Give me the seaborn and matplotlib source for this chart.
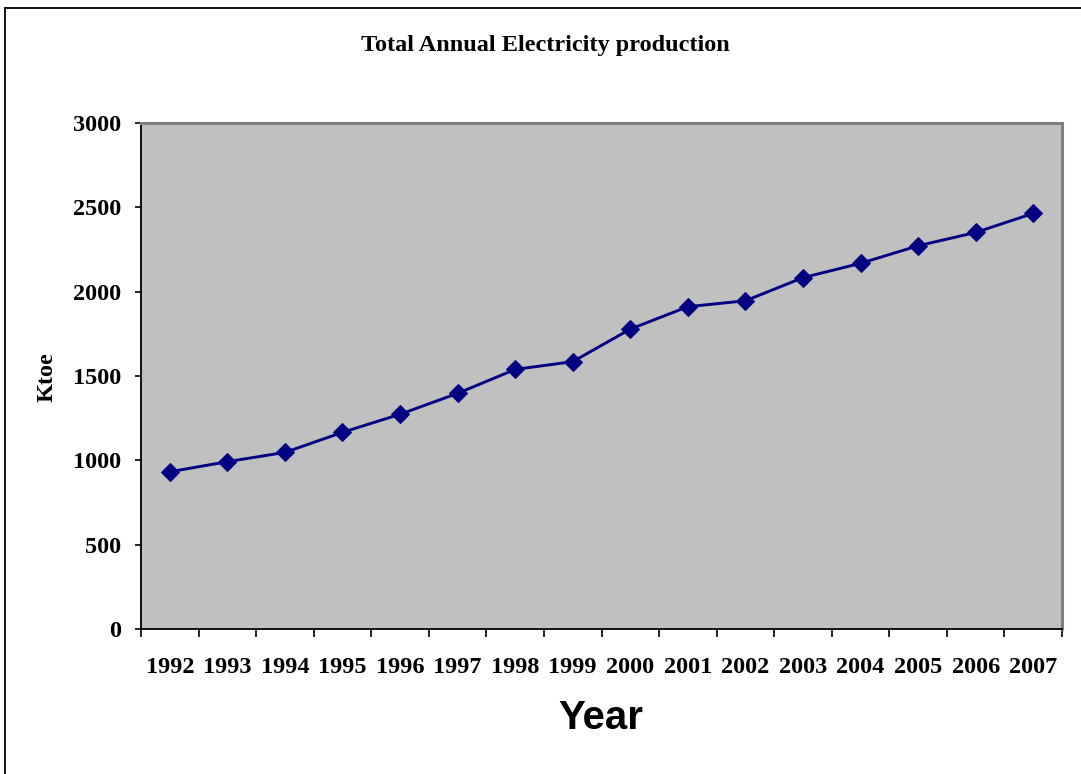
import matplotlib
matplotlib.use("Agg")
import matplotlib.pyplot as plt
from matplotlib.lines import Line2D
from matplotlib.ticker import FixedLocator
import numpy as np
import pandas as pd
import seaborn as sns

# Total annual electricity production (Ktoe)
years = ["1992", "1993", "1994", "1995", "1996", "1997", "1998", "1999",
         "2000", "2001", "2002", "2003", "2004", "2005", "2006", "2007"]
production = [932, 992, 1047, 1166, 1273, 1397, 1539, 1585,
              1778, 1911, 1946, 2083, 2168, 2272, 2351, 2464]
y_ticks = [0, 500, 1000, 1500, 2000, 2500, 3000]

sns.set_theme(style="white")
plt.rcParams["font.family"] = ["Liberation Serif", "DejaVu Serif"]
plt.rcParams["text.color"] = "black"
plt.rcParams["xtick.color"] = "black"
plt.rcParams["ytick.color"] = "black"
plt.rcParams["axes.labelcolor"] = "black"

df = pd.DataFrame({"Year": years, "Ktoe": production})

fig = plt.figure(figsize=(10.81, 7.74), dpi=100)
ax = fig.add_axes([141 / 1081, 1 - 629 / 774, (1062 - 141) / 1081, (629 - 123) / 774])
ax.set_facecolor("#C0C0C0")

sns.lineplot(data=df, x="Year", y="Ktoe", ax=ax, sort=False,
             color="#000080", linewidth=2.1, marker="D", markersize=9.5,
             markeredgecolor="#000080", markerfacecolor="#000080")

ax.set_xlim(-0.5, len(years) - 0.5)
ax.set_ylim(0, 3000)
ax.set_yticks(y_ticks)
ax.set_yticklabels([str(v) for v in y_ticks], fontsize=17.5, fontweight="bold", color="black")
ax.set_xticks(range(len(years)))
ax.set_xticklabels(years, fontsize=17.5, fontweight="bold", color="black")

# tick marks sit between categories, labels in the middle
ax.xaxis.set_minor_locator(FixedLocator(np.arange(-0.5, len(years), 1.0)))
ax.tick_params(axis="x", which="major", length=0, pad=20)
ax.tick_params(axis="x", which="minor", length=6, width=1.2, color="black", direction="out", bottom=True)
ax.tick_params(axis="y", which="major", length=4, width=1.2, color="black", direction="out", left=True, pad=10)

for side in ("left", "bottom"):
    ax.spines[side].set_color("black")
    ax.spines[side].set_linewidth(1.3)
for side in ("top", "right"):
    ax.spines[side].set_color("#808080")
    ax.spines[side].set_linewidth(2.2)

ax.set_xlabel("")
ax.set_ylabel("")

fig.text(545 / 1081, 1 - 45 / 774, "Total Annual Electricity production",
         ha="center", va="center", fontsize=17.5, fontweight="bold", color="black")
fig.text(47 / 1081, 1 - 377 / 774, "Ktoe", rotation=90, ha="center", va="center",
         fontsize=17.5, fontweight="bold", color="black")
fig.text(601 / 1081, 1 - 718 / 774, "Year", ha="center", va="center",
         fontsize=29, fontweight="bold", color="black",
         family=["Liberation Sans", "DejaVu Sans"])

# outer chart frame
fig.add_artist(Line2D([5 / 1081, 1.0], [1 - 8 / 774, 1 - 8 / 774], transform=fig.transFigure,
                      color="black", linewidth=1.3))
fig.add_artist(Line2D([5 / 1081, 5 / 1081], [0.0, 1 - 8 / 774], transform=fig.transFigure,
                      color="black", linewidth=1.3))

fig.savefig("out.png", dpi=100, facecolor="white")
